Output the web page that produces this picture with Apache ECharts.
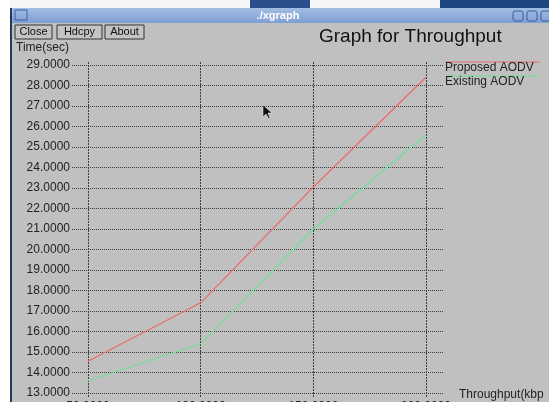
<!DOCTYPE html>
<html>
<head>
<meta charset="utf-8">
<script src="https://cdn.jsdelivr.net/npm/echarts@6/dist/echarts.min.js"></script>
<style>
  html, body { margin: 0; padding: 0; background: #ffffff; }
  #chart { width: 549px; height: 402px; }
</style>
</head>
<body>
<div id="chart"></div>
<script>
// 数据
var throughput = [50, 100, 150, 200];
var proposedAodv = [14.55, 17.4, 23.05, 28.4];
var existingAodv = [13.6, 15.4, 21.0, 25.6];
var seriesNames = ['Proposed AODV', 'Existing AODV'];

var chartDom = document.getElementById('chart');
var myChart = echarts.init(chartDom, null, { renderer: 'canvas' });

var font = 'Liberation Sans, DejaVu Sans, sans-serif';
var gridColor = '#3c3c3c';

function button(x, w, label) {
  return [
    { type: 'rect', shape: { x: x, y: 25, width: w, height: 14 },
      style: { fill: '#c4c4c4', stroke: '#333', lineWidth: 1 } },
    { type: 'text', x: x + w / 2, y: 32,
      style: { text: label, fill: '#111', font: '11px ' + font, align: 'center', verticalAlign: 'middle' } }
  ];
}

var option = {
  backgroundColor: '#c0c0c0',
  animation: false,
  grid: [
    // 水平网格线 + Y 轴标签
    { left: 72, top: 65, width: 371, height: 328, outerBoundsMode: 'none' },
    // 数据区 + 垂直网格线
    { left: 88, top: 62, width: 338, height: 335, outerBoundsMode: 'none' }
  ],
  xAxis: [
    { gridIndex: 0, type: 'value', min: 0, max: 1, show: false },
    {
      gridIndex: 1, type: 'value', min: 50, max: 200, interval: 50,
      axisLine: { show: false }, axisTick: { show: false },
      axisLabel: {
        color: '#222', fontSize: 12, fontFamily: font, margin: 4,
        formatter: function (v) { return v.toFixed(4); }
      },
      splitLine: { show: true, lineStyle: { color: gridColor, type: [2, 1], width: 1 } }
    }
  ],
  yAxis: [
    {
      gridIndex: 0, type: 'value', min: 13, max: 29, interval: 1,
      axisLine: { show: false }, axisTick: { show: false },
      axisLabel: {
        color: '#222', fontSize: 12, fontFamily: font, margin: 2,
        formatter: function (v) { return v.toFixed(4); }
      },
      splitLine: { show: true, lineStyle: { color: gridColor, type: [1, 1], width: 1 } }
    },
    { gridIndex: 1, type: 'value', min: 13 - 4 / 20.5, max: 29 + 3 / 20.5, show: false }
  ],
  series: [
    {
      name: seriesNames[0], type: 'line', xAxisIndex: 1, yAxisIndex: 1,
      data: throughput.map(function (x, i) { return [x, proposedAodv[i]]; }),
      symbol: 'none', lineStyle: { color: '#ec6a6a', width: 1.2 }
    },
    {
      name: seriesNames[1], type: 'line', xAxisIndex: 1, yAxisIndex: 1,
      data: throughput.map(function (x, i) { return [x, existingAodv[i]]; }),
      symbol: 'none', lineStyle: { color: '#6ee09a', width: 1.2 }
    }
  ],
  graphic: {
    elements: [
      // 桌面 + 窗口边框
      { type: 'rect', shape: { x: 0, y: 0, width: 549, height: 8 }, style: { fill: '#f4f6f8' } },
      { type: 'rect', shape: { x: 250, y: 0, width: 60, height: 8 }, style: { fill: '#2a4f8c' } },
      { type: 'rect', shape: { x: 440, y: 0, width: 109, height: 8 }, style: { fill: '#1e4680' } },
      { type: 'rect', shape: { x: 0, y: 0, width: 10, height: 402 }, style: { fill: '#ffffff' } },
      { type: 'rect', shape: { x: 10, y: 8, width: 2, height: 394 }, style: { fill: '#25395c' } },
      // 标题栏
      { type: 'rect', shape: { x: 12, y: 8, width: 537, height: 15 },
        style: { fill: new echarts.graphic.LinearGradient(0, 0, 0, 1, [
          { offset: 0, color: '#a3bde4' }, { offset: 1, color: '#7d9fd2' }]) } },
      { type: 'rect', shape: { x: 15, y: 10, width: 12, height: 10 },
        style: { fill: 'none', stroke: '#3c5f99', lineWidth: 1 } },
      { type: 'text', x: 278, y: 16,
        style: { text: './xgraph', fill: '#ffffff', font: 'bold 11px ' + font, align: 'center', verticalAlign: 'middle' } },
      { type: 'rect', shape: { x: 513, y: 11, width: 10, height: 10, r: 2 },
        style: { fill: 'none', stroke: '#3c5f99', lineWidth: 1 } },
      { type: 'rect', shape: { x: 527, y: 11, width: 10, height: 10, r: 2 },
        style: { fill: 'none', stroke: '#3c5f99', lineWidth: 1 } },
      { type: 'rect', shape: { x: 541, y: 11, width: 10, height: 10, r: 2 },
        style: { fill: 'none', stroke: '#3c5f99', lineWidth: 1 } }
    ]
      .concat(button(15, 37, 'Close'))
      .concat(button(57, 45, 'Hdcpy'))
      .concat(button(105, 39, 'About'))
      .concat([
        { type: 'text', x: 319, y: 37,
          style: { text: 'Graph for Throughput', fill: '#111', font: '19px ' + font, verticalAlign: 'middle' } },
        { type: 'text', x: 16, y: 48,
          style: { text: 'Time(sec)', fill: '#222', font: '12px ' + font, verticalAlign: 'middle' } },
        { type: 'text', x: 459, y: 395,
          style: { text: 'Throughput(kbp', fill: '#222', font: '12px ' + font, verticalAlign: 'middle' } },
        // 图例
        { type: 'line', shape: { x1: 445, y1: 62, x2: 540, y2: 62 }, style: { stroke: '#ec6a6a', lineWidth: 1.2 } },
        { type: 'text', x: 445, y: 68,
          style: { text: seriesNames[0], fill: '#222', font: '12px ' + font, verticalAlign: 'middle' } },
        { type: 'line', shape: { x1: 445, y1: 76, x2: 540, y2: 76 }, style: { stroke: '#6ee09a', lineWidth: 1.2 } },
        { type: 'text', x: 445, y: 82,
          style: { text: seriesNames[1], fill: '#222', font: '12px ' + font, verticalAlign: 'middle' } },
        // 鼠标指针
        { type: 'polygon', shape: { points: [[263, 105], [263, 117], [266, 114], [269, 119], [270, 118], [268, 113], [272, 113]] },
          style: { fill: '#111', stroke: '#fff', lineWidth: 0.5 } }
      ])
  }
};

myChart.setOption(option);
</script>
</body>
</html>
